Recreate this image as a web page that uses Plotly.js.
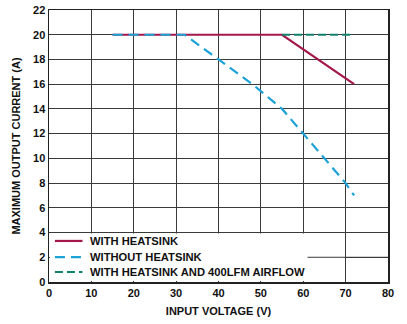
<!DOCTYPE html>
<html><head><meta charset="utf-8">
<script src="https://cdn.plot.ly/plotly-3.0.1.min.js"></script>
<style>html,body{margin:0;padding:0;background:#fff}#c{width:407px;height:324px}</style>
</head><body><div id="c"></div>
<script>
const withHsX = [15, 55, 72];
const withHsY = [20, 20, 16];
const noHsX = [15, 32, 40, 48, 55, 60, 70, 72];
const noHsY = [20, 20, 18, 16, 14, 12, 8, 7];
const airX = [55, 72];
const airY = [20, 20];
const names = ['WITH HEATSINK', 'WITHOUT HEATSINK', 'WITH HEATSINK AND 400LFM AIRFLOW'];
const xTicks = [0, 10, 20, 30, 40, 50, 60, 70, 80];
const yTicks = [0, 2, 4, 6, 8, 10, 12, 14, 16, 18, 20, 22];

const F = 'Liberation Sans, Arial, sans-serif';
const colors = ['#A3174A', '#1DA2D8', '#12806E'];
const dashes = ['solid', '10px,6px', '8px,4px'];
const traces = [
  {x: withHsX, y: withHsY, name: names[0], mode: 'lines', line: {color: colors[0], width: 2.2, dash: dashes[0]}},
  {x: noHsX, y: noHsY, name: names[1], mode: 'lines', line: {color: colors[1], width: 2.2, dash: dashes[1]}},
  {x: airX, y: airY, name: names[2], mode: 'lines', line: {color: colors[2], width: 2.2, dash: dashes[2]}}
];
// manual legend (in data units, within the white box)
const legY = [3.32, 2.02, 0.81];
const shapes = [
  {type: 'rect', xref: 'x', yref: 'y', x0: 0.2, x1: 69.8, y0: 0.08, y1: 3.92, fillcolor: '#fff', line: {width: 0}, layer: 'between'},
  {type: 'line', xref: 'x', yref: 'y', x0: 61, x1: 80, y0: 2, y1: 2, line: {color: '#3a3a3a', width: 1}, layer: 'between'}
];
const annotations = [];
names.forEach((n, i) => {
  shapes.push({type: 'line', xref: 'x', yref: 'y', x0: 1.4, x1: 7.9, y0: legY[i], y1: legY[i],
    line: {color: colors[i], width: 2.2, dash: dashes[i]}, layer: 'above'});
  annotations.push({xref: 'x', yref: 'y', x: 9.1, y: legY[i], xanchor: 'left', yanchor: 'middle',
    text: n, showarrow: false, font: {family: F, size: 11.2, color: '#111', weight: 'bold'}});
});
const layout = {
  width: 407, height: 324,
  margin: {l: 49, r: 19, t: 10, b: 42},
  paper_bgcolor: '#fff', plot_bgcolor: '#fff',
  showlegend: false,
  xaxis: {range: [0, 80], tickvals: xTicks, showgrid: true, gridcolor: '#3a3a3a', gridwidth: 1,
    zeroline: false, showline: true, linecolor: '#222', linewidth: 1.5, mirror: true,
    ticks: '', tickfont: {family: F, size: 11, color: '#111', weight: 'bold'},
    title: {text: 'INPUT VOLTAGE (V)', font: {family: F, size: 11, color: '#111', weight: 'bold'}, standoff: 9}},
  yaxis: {range: [0, 22], tickvals: yTicks, showgrid: true, gridcolor: '#3a3a3a', gridwidth: 1,
    zeroline: false, showline: true, linecolor: '#222', linewidth: 1.5, mirror: true,
    ticks: '', tickfont: {family: F, size: 11, color: '#111', weight: 'bold'},
    title: {text: 'MAXIMUM OUTPUT CURRENT (A)', font: {family: F, size: 11, color: '#111', weight: 'bold'}, standoff: 10}},
  shapes: shapes,
  annotations: annotations
};
Plotly.newPlot('c', traces, layout, {displayModeBar: false, staticPlot: true});
</script></body></html>
